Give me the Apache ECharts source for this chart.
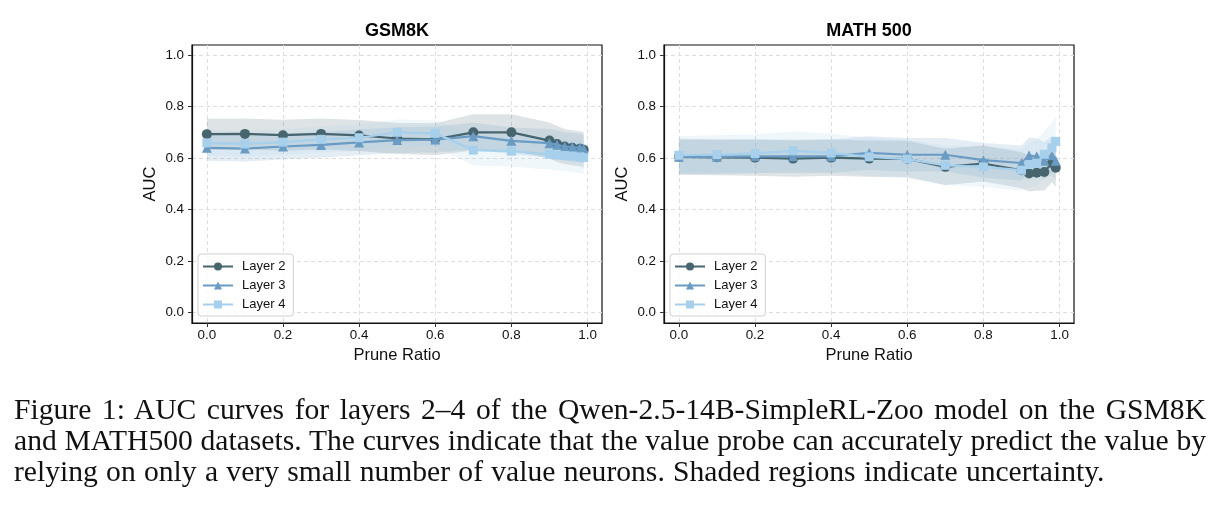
<!DOCTYPE html>
<html>
<head>
<meta charset="utf-8">
<script src="https://cdn.jsdelivr.net/npm/echarts@6/dist/echarts.min.js"></script>
<style>
  html, body { margin: 0; padding: 0; background: #fff; }
  #chart { position: absolute; left: 0; top: 0; width: 1220px; height: 506px; }
  #caption {
    position: absolute; left: 14px; top: 394px; width: 1192px;
    font-family: "Liberation Serif", "DejaVu Serif", serif;
    font-size: 29.6px; line-height: 31px; color: #111;
  }
  #caption .just { text-align: justify; text-align-last: justify; }
  #caption .last { white-space: nowrap; word-spacing: 0.9px; }
</style>
</head>
<body>
<div id="chart"></div>
<div id="caption">
  <div class="just">Figure 1: AUC curves for layers 2–4 of the Qwen-2.5-14B-SimpleRL-Zoo model on the GSM8K</div>
  <div class="just">and MATH500 datasets. The curves indicate that the value probe can accurately predict the value by</div>
  <div class="last">relying on only a very small number of value neurons. Shaded regions indicate uncertainty.</div>
</div>
<script>
// prune ratios on the x axis
const ratios = [0, 0.1, 0.2, 0.3, 0.4, 0.5, 0.6, 0.7, 0.8, 0.9, 0.92, 0.94, 0.96, 0.98, 0.99];
const xTicks = [0, 0.2, 0.4, 0.6, 0.8, 1.0];
const yTicks = [0, 0.2, 0.4, 0.6, 0.8, 1.0];
const layerNames = ["Layer 2", "Layer 3", "Layer 4"];

// GSM8K: mean AUC and spread per layer
const gsmL2 = [0.693, 0.694, 0.689, 0.694, 0.688, 0.676, 0.673, 0.700, 0.700, 0.668, 0.655, 0.645, 0.640, 0.636, 0.632];
const gsmL3 = [0.640, 0.637, 0.645, 0.651, 0.661, 0.670, 0.672, 0.685, 0.667, 0.658, 0.652, 0.645, 0.643, 0.640, 0.636];
const gsmL4 = [0.659, 0.655, 0.662, 0.673, 0.679, 0.700, 0.696, 0.631, 0.627, 0.615, 0.612, 0.610, 0.608, 0.605, 0.602];
const gsmL2Std = [0.060, 0.060, 0.060, 0.060, 0.060, 0.060, 0.062, 0.070, 0.070, 0.070, 0.070, 0.068, 0.068, 0.068, 0.068];
const gsmL3Std = [0.050, 0.050, 0.050, 0.050, 0.050, 0.050, 0.050, 0.052, 0.052, 0.055, 0.055, 0.055, 0.055, 0.055, 0.055];
const gsmL4Std = [0.050, 0.050, 0.050, 0.050, 0.050, 0.050, 0.050, 0.060, 0.060, 0.060, 0.060, 0.060, 0.062, 0.063, 0.065];

// MATH 500
const mathL2 = [0.605, 0.603, 0.602, 0.598, 0.602, 0.598, 0.597, 0.566, 0.579, 0.553, 0.540, 0.543, 0.546, 0.581, 0.563];
const mathL3 = [0.605, 0.605, 0.607, 0.607, 0.607, 0.620, 0.613, 0.613, 0.592, 0.581, 0.610, 0.607, 0.590, 0.611, 0.590];
const mathL4 = [0.611, 0.614, 0.618, 0.628, 0.620, 0.605, 0.596, 0.572, 0.566, 0.553, 0.575, 0.580, 0.615, 0.640, 0.665];
const mathL2Std = [0.070, 0.070, 0.070, 0.070, 0.070, 0.070, 0.070, 0.070, 0.070, 0.070, 0.070, 0.070, 0.072, 0.075, 0.075];
const mathL3Std = [0.065, 0.065, 0.065, 0.065, 0.065, 0.065, 0.065, 0.065, 0.067, 0.068, 0.070, 0.070, 0.072, 0.075, 0.075];
const mathL4Std = [0.075, 0.075, 0.075, 0.075, 0.075, 0.075, 0.075, 0.077, 0.078, 0.080, 0.085, 0.090, 0.090, 0.095, 0.100];

const colors = ["#47656f", "#6a9bc3", "#a6d0eb"];
const symbols = ["circle", "triangle", "rect"];
const FONT = "Liberation Sans";

const panels = [
  { title: "GSM8K", left: 192, means: [gsmL2, gsmL3, gsmL4], stds: [gsmL2Std, gsmL3Std, gsmL4Std] },
  { title: "MATH 500", left: 664, means: [mathL2, mathL3, mathL4], stds: [mathL2Std, mathL3Std, mathL4Std] },
];
const gridTop = 45, gridW = 410, gridH = 278;

function tickFmt(v) {
  return Number(v).toFixed(1);
}

function withAlpha(hex, a) {
  const n = parseInt(hex.slice(1), 16);
  return `rgba(${(n >> 16) & 255},${(n >> 8) & 255},${n & 255},${a})`;
}

const grids = [], xAxes = [], yAxes = [], titles = [], legends = [], series = [];

panels.forEach((p, gi) => {
  grids.push({
    left: p.left, top: gridTop, width: gridW, height: gridH,
    show: true, borderColor: "#111", borderWidth: 1.2, backgroundColor: "transparent",
    outerBoundsMode: "none",
  });
  titles.push({
    text: p.title, left: p.left + gridW / 2, top: 22, textAlign: "center", padding: 0,
    textStyle: { fontFamily: FONT, fontSize: 18, fontWeight: "bold", color: "#000" },
  });
  xAxes.push({
    type: "value", gridIndex: gi, min: -0.039, max: 1.038,
    name: "Prune Ratio", nameLocation: "middle", nameGap: 23,
    nameTextStyle: { fontFamily: FONT, fontSize: 16.5, color: "#111" },
    axisLine: { show: true, onZero: false, lineStyle: { color: "#111", width: 1.2 } },
    axisTick: { show: true, customValues: xTicks, length: 4, lineStyle: { color: "#333" } },
    axisLabel: { customValues: xTicks, formatter: tickFmt, margin: 6, fontFamily: FONT, fontSize: 13.4, color: "#111" },
    splitLine: { show: true, lineStyle: { color: "#dedede", type: [4, 3], width: 1 } },
  });
  yAxes.push({
    type: "value", gridIndex: gi, min: -0.04, max: 1.039,
    name: "AUC", nameLocation: "middle", nameGap: 33,
    nameTextStyle: { fontFamily: FONT, fontSize: 16.5, color: "#111" },
    axisLine: { show: true, onZero: false, lineStyle: { color: "#111", width: 1.2 } },
    axisTick: { show: true, customValues: yTicks, length: 4, lineStyle: { color: "#333" } },
    axisLabel: { customValues: yTicks, formatter: tickFmt, margin: 8, fontFamily: FONT, fontSize: 13.4, color: "#111" },
    splitLine: { show: true, lineStyle: { color: "#dedede", type: [4, 3], width: 1 } },
  });

  // shaded uncertainty bands, one polygon per layer
  p.means.forEach((mean, li) => {
    const std = p.stds[li];
    series.push({
      type: "custom", name: "band", xAxisIndex: gi, yAxisIndex: gi, silent: true, z: 1,
      data: ratios.map((x, i) => [x, mean[i] - std[i], mean[i] + std[i]]),
      encode: { x: 0, y: [1, 2] },
      renderItem: (params, api) => {
        if (params.dataIndex !== 0) return null;
        const upper = ratios.map((x, i) => api.coord([x, mean[i] + std[i]]));
        const lower = ratios.map((x, i) => api.coord([x, mean[i] - std[i]])).reverse();
        return {
          type: "polygon",
          shape: { points: upper.concat(lower) },
          style: { fill: withAlpha(colors[li], 0.18), stroke: null },
        };
      },
    });
  });

  p.means.forEach((mean, li) => {
    series.push({
      type: "line", name: layerNames[li], xAxisIndex: gi, yAxisIndex: gi,
      data: ratios.map((x, i) => [x, mean[i]]),
      symbol: symbols[li], symbolSize: li === 2 ? 9 : 10,
      lineStyle: { color: colors[li], width: 2.2 },
      itemStyle: { color: colors[li] },
      z: 3 + li,
    });
  });

  legends.push({
    data: layerNames, orient: "vertical", left: p.left + 6, top: 254,
    padding: [6, 8, 5, 4], itemGap: 6, itemWidth: 30, itemHeight: 10,
    backgroundColor: "rgba(255,255,255,0.8)", borderColor: "#d0d0d0", borderWidth: 1, borderRadius: 3,
    textStyle: { fontFamily: FONT, fontSize: 13, color: "#111", padding: [0, 0, 0, 4] },
    selectedMode: false,
  });
});

const chart = echarts.init(document.getElementById("chart"), null, { renderer: "canvas" });
chart.setOption({
  animation: false,
  backgroundColor: "#fff",
  title: titles,
  grid: grids,
  xAxis: xAxes,
  yAxis: yAxes,
  legend: legends,
  series,
});
</script>
</body>
</html>
